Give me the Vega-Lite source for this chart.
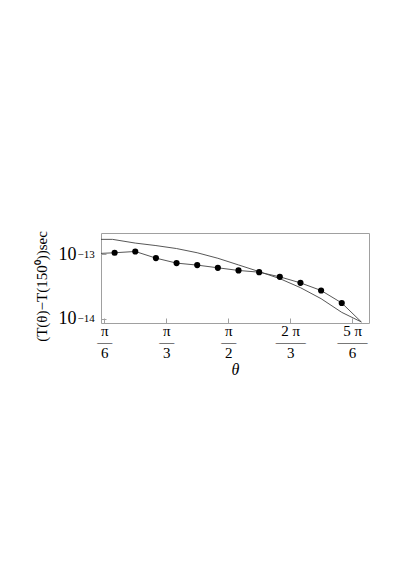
{
  "$schema": "https://vega.github.io/schema/vega-lite/v6.json",
  "width": 268,
  "height": 90,
  "autosize": {"type": "none"},
  "padding": {"left": 101, "top": 233, "right": 44, "bottom": 261},
  "background": "white",
  "config": {
    "view": {"stroke": "#a0a0a0", "strokeWidth": 1},
    "font": "Liberation Serif"
  },
  "data": {"values": [
    {"theta": 28.4, "dt": 1.714e-13, "series": "A"},
    {"theta": 34, "dt": 1.714e-13, "series": "A"},
    {"theta": 45, "dt": 1.50e-13, "series": "A"},
    {"theta": 55, "dt": 1.372e-13, "series": "A"},
    {"theta": 65, "dt": 1.233e-13, "series": "A"},
    {"theta": 75, "dt": 1.06e-13, "series": "A"},
    {"theta": 85, "dt": 8.7e-14, "series": "A"},
    {"theta": 95, "dt": 6.85e-14, "series": "A"},
    {"theta": 105, "dt": 5.39e-14, "series": "A"},
    {"theta": 115, "dt": 4.19e-14, "series": "A"},
    {"theta": 125, "dt": 3.03e-14, "series": "A"},
    {"theta": 135, "dt": 2.04e-14, "series": "A"},
    {"theta": 145, "dt": 1.25e-14, "series": "A"},
    {"theta": 154.5, "dt": 8.85e-15, "series": "A"},
    {"theta": 28.4, "dt": 1.037e-13, "series": "B"},
    {"theta": 35, "dt": 1.06e-13, "series": "B"},
    {"theta": 45, "dt": 1.11e-13, "series": "B"},
    {"theta": 55, "dt": 8.75e-14, "series": "B"},
    {"theta": 65, "dt": 7.31e-14, "series": "B"},
    {"theta": 75, "dt": 6.81e-14, "series": "B"},
    {"theta": 85, "dt": 6.18e-14, "series": "B"},
    {"theta": 95, "dt": 5.62e-14, "series": "B"},
    {"theta": 105, "dt": 5.28e-14, "series": "B"},
    {"theta": 115, "dt": 4.47e-14, "series": "B"},
    {"theta": 125, "dt": 3.60e-14, "series": "B"},
    {"theta": 135, "dt": 2.74e-14, "series": "B"},
    {"theta": 145, "dt": 1.75e-14, "series": "B"},
    {"theta": 154.5, "dt": 8.85e-15, "series": "B"}
  ]},
  "resolve": {"scale": {"y": "shared"}, "axis": {"y": "independent"}},
  "layer": [
    {
      "mark": {"type": "line", "color": "#444444", "strokeWidth": 0.9, "clip": true},
      "encoding": {
        "x": {
          "field": "theta", "type": "quantitative",
          "scale": {"domain": [28.4, 158.2], "nice": false, "zero": false},
          "axis": {
            "title": "θ",
            "titleFont": "Liberation Serif", "titleFontSize": 16, "titleFontStyle": "italic", "titleFontWeight": "normal",
            "titleColor": "black", "titlePadding": 1,
            "values": [30, 60, 90, 120, 150],
            "labelExpr": "datum.value == 30 ? ['π', '—', '6'] : datum.value == 60 ? ['π', '—', '3'] : datum.value == 90 ? ['π', '—', '2'] : datum.value == 120 ? ['2 π', '——', '3'] : ['5 π', '——', '6']",
            "labelFont": "Liberation Serif", "labelFontSize": 15, "labelColor": "black",
            "labelLineHeight": 11, "labelPadding": 5,
            "tickSize": -5, "tickColor": "#a0a0a0", "domain": false, "grid": false,
            "labelFlush": false, "labelOverlap": false
          }
        },
        "y": {
          "field": "dt", "type": "quantitative",
          "scale": {"type": "log", "domain": [8.53e-15, 2.154e-13], "nice": false},
          "axis": {
            "orient": "left",
            "title": "(T(θ)−T(150⁰))sec",
            "titleFont": "Liberation Serif", "titleFontSize": 15, "titleFontWeight": "normal",
            "titleColor": "black", "titlePadding": 9, "titleY": 53,
            "values": [1e-14, 1e-13],
            "labelExpr": "'10'",
            "labelFont": "Liberation Serif", "labelFontSize": 18, "labelColor": "black",
            "labelPadding": 30,
            "tickSize": -5, "tickColor": "#a0a0a0", "domain": false, "grid": false,
            "labelFlush": false, "labelOverlap": false
          }
        },
        "detail": {"field": "series"}
      }
    },
    {
      "transform": [{"filter": "datum.series == 'B' && datum.theta > 30 && datum.theta < 150"}],
      "mark": {"type": "point", "filled": true, "color": "black", "opacity": 1, "size": 38},
      "encoding": {
        "x": {"field": "theta", "type": "quantitative"},
        "y": {
          "field": "dt", "type": "quantitative",
          "axis": {
            "orient": "left",
            "title": null,
            "values": [1e-14, 1e-13],
            "labelExpr": "datum.value > 5e-14 ? '−13' : '−14'",
            "labelFont": "Liberation Serif", "labelFontSize": 11, "labelColor": "black",
            "labelAlign": "left", "labelDy": -5,
            "labelPadding": 24,
            "ticks": false, "domain": false, "grid": false,
            "labelFlush": false, "labelOverlap": false
          }
        }
      }
    }
  ]
}
